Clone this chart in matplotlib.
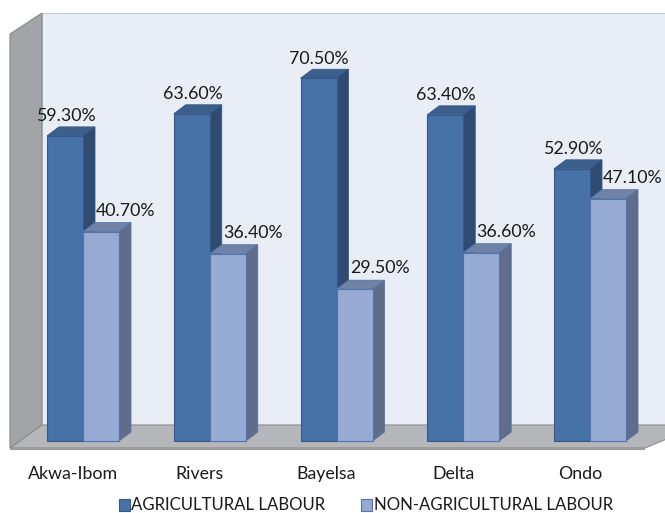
import matplotlib
matplotlib.use("Agg")
import matplotlib.pyplot as plt
from matplotlib.patches import Polygon, Rectangle

# ---- data ----
states = ["Akwa-Ibom", "Rivers", "Bayelsa", "Delta", "Ondo"]
agricultural = [59.3, 63.6, 70.5, 63.4, 52.9]
non_agricultural = [40.7, 36.4, 29.5, 36.6, 47.1]
series_names = ["AGRICULTURAL LABOUR", "NON-AGRICULTURAL LABOUR"]

# ---- styling ----
FONT = ["Lato", "DejaVu Sans"]
plt.rcParams["font.family"] = FONT

dark_front, dark_top, dark_side, dark_edge = "#4672A8", "#3C5E8B", "#2F4B72", "#36598A"
light_front, light_top, light_side, light_edge = "#97AAD4", "#7083A6", "#5F6D8B", "#5374AA"
wall_back = "#E9EDF6"
wall_side = "#A2A4A7"
floor_col = "#B5B6B9"
edge_gray = "#8A8A8A"

W, H = 665, 513
fig = plt.figure(figsize=(W / 100, H / 100), dpi=100)
ax = fig.add_axes([0, 0, 1, 1])

# pixel -> data mapping (category units in x, percent in y)
PX_PER_CAT = 126.75
PX_PER_PCT = 5.145
X0_PX = 83.0    # px of first group centre
Y0_PX = 441.0   # px of zero line (front)
def dx_px(p):
    return (p - X0_PX) / PX_PER_CAT
def dy_px(p):
    return (Y0_PX - p) / PX_PER_PCT

ax.set_xlim(dx_px(0), dx_px(W))
ax.set_ylim(dy_px(H), dy_px(0))
ax.axis("off")

# --- walls and floor ---
back = Polygon([(dx_px(42), dy_px(425)), (dx_px(42), dy_px(13)),
                (dx_px(700), dy_px(13)), (dx_px(700), dy_px(425))],
               closed=True, facecolor=wall_back, edgecolor="#C8CCD4", lw=0.8, zorder=1)
ax.add_patch(back)
side = Polygon([(dx_px(10), dy_px(448)), (dx_px(10), dy_px(34)),
                (dx_px(42), dy_px(13)), (dx_px(42), dy_px(425))],
               closed=True, facecolor=wall_side, edgecolor=edge_gray, lw=0.8, zorder=1)
ax.add_patch(side)
floor = Polygon([(dx_px(10), dy_px(448)), (dx_px(42), dy_px(425)),
                 (dx_px(700), dy_px(425)), (dx_px(645), dy_px(448))],
                closed=True, facecolor=floor_col, edgecolor=edge_gray, lw=0.8, zorder=1)
ax.add_patch(floor)
ax.add_patch(Polygon([(dx_px(10), dy_px(448)), (dx_px(645), dy_px(448)),
                      (dx_px(645), dy_px(450)), (dx_px(10), dy_px(450))],
                     closed=True, facecolor="#9A9A9C", edgecolor="none", zorder=1))

# --- bars ---
bw = 36 / PX_PER_CAT          # bar width in category units
ddx = 12 / PX_PER_CAT         # depth offset x
ddy = 9 / PX_PER_PCT          # depth offset y
xs = list(range(len(states)))

def draw_3d(xleft, vals, front, top, sidec, edge, z):
    ax.bar(xleft, vals, width=bw, align="edge", color=front, edgecolor=edge,
           linewidth=0.8, zorder=z + 0.2)
    for x, v in zip(xleft, vals):
        ax.add_patch(Polygon([(x, v), (x + ddx, v + ddy), (x + bw + ddx, v + ddy), (x + bw, v)],
                             closed=True, facecolor=top, edgecolor=edge, lw=0.6, zorder=z))
        ax.add_patch(Polygon([(x + bw, 0), (x + bw + ddx, ddy), (x + bw + ddx, v + ddy), (x + bw, v)],
                             closed=True, facecolor=sidec, edgecolor=edge, lw=0.6, zorder=z))

draw_3d([x - bw for x in xs], agricultural, dark_front, dark_top, dark_side, dark_edge, 3)
draw_3d([x for x in xs], non_agricultural, light_front, light_top, light_side, light_edge, 4)

# --- value labels ---
fs_val = 12.8
for x, v in zip(xs, agricultural):
    ax.annotate(f"{v:.2f}%", (x - bw / 2, v), xytext=(0.5, 14), textcoords="offset points",
                ha="center", va="center", fontsize=fs_val, color="#1A1A1A", zorder=10)
for x, v in zip(xs, non_agricultural):
    ax.annotate(f"{v:.2f}%", (x + bw / 2, v), xytext=(18, 15), textcoords="offset points",
                ha="center", va="center", fontsize=fs_val, color="#1A1A1A", zorder=10)

# --- category labels ---
for x, s in zip(xs, states):
    ax.text(x - 10 / PX_PER_CAT, dy_px(474), s, ha="center", va="center",
            fontsize=12.8, color="#1A1A1A")

# --- legend ---
leg_y = dy_px(505)
for (mx, tx), name, fc, ec in zip([(119, 131), (361, 374)], series_names,
                                  [dark_front, light_front], [dark_edge, light_edge]):
    ax.add_patch(Rectangle((dx_px(mx), dy_px(511)), 11 / PX_PER_CAT, 12 / PX_PER_PCT,
                           facecolor=fc, edgecolor=ec, lw=0.8, zorder=5))
    ax.text(dx_px(tx), leg_y, name, ha="left", va="center", fontsize=12.1, color="#1A1A1A")

fig.savefig("out.png", dpi=100, facecolor="white")
